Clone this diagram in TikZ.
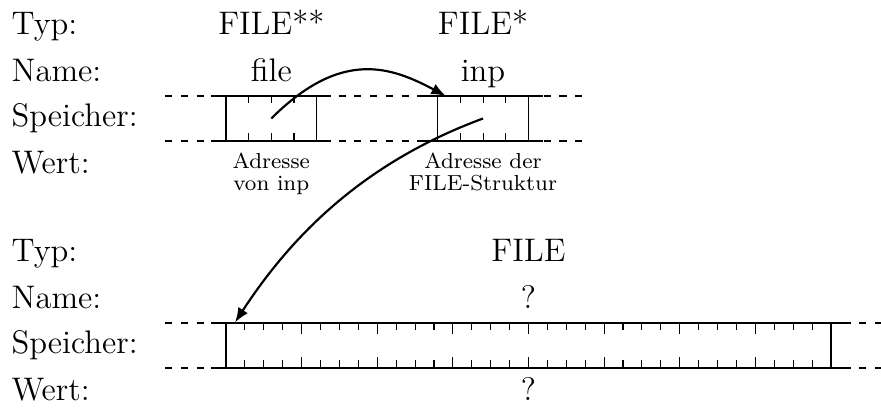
\documentclass[tikz,border=0pt]{standalone}
\usetikzlibrary{arrows.meta}
\begin{document}
\begin{tikzpicture}[x=0.3676pt,y=-0.3676pt,
  lbl/.style={anchor=base west,inner sep=0pt,font=\fontsize{12}{14.4}\selectfont},
  val/.style={anchor=base,inner sep=0pt,font=\fontsize{12}{14.4}\selectfont},
  note/.style={anchor=base,inner sep=0pt,font=\fontsize{8}{9}\selectfont},
  mem/.style={line width=0.4pt},
  memdash/.style={line width=0.4pt,dash pattern=on 2.6pt off 3.2pt},
  ptr/.style={line width=0.8pt,-{Latex[length=5.4pt,width=4.2pt]}}]
\useasboundingbox (0,0) rectangle (881,408);

% ---------- upper part ----------
\node[lbl] (typA)  at (11,35)    {Typ:};
\node[lbl] (nameA) at (11,81.7)  {Name:};
\node[lbl] (speiA) at (11,126.7) {Speicher:};
\node[lbl] (wertA) at (11,173.3) {Wert:};

\node[val] (typ1)  at (271.3,35)   {FILE**};
\node[val] (name1) at (271.3,81.7) {file};
\node[val] (typ2)  at (483,35)     {FILE*};
\node[val] (name2) at (483,81.7)   {inp};

\node[note] (w1a) at (271.3,169) {Adresse};
\node[note] (w1b) at (271.3,190) {von inp};
\node[note] (w2a) at (483,169)   {Adresse der};
\node[note] (w2b) at (483,190)   {FILE-Struktur};

\draw[memdash] (165,96) -- (590,96);
\draw[memdash] (165,141) -- (590,141);
\draw[mem] (211.5,96) -- (331,96);
\draw[mem] (211.5,141) -- (331,141);
\draw[mem] (423,96) -- (543,96);
\draw[mem] (423,141) -- (543,141);
\foreach \bx in {226,437.7}{
  \draw[mem] (\bx,96) -- (\bx,141);
  \draw[mem] ({\bx+90.7},96) -- ({\bx+90.7},141);
  \foreach \i in {1,2,3}{
    \draw[mem] ({\bx+\i*22.675},96) -- ++(0,7.5);
    \draw[mem] ({\bx+\i*22.675},141) -- ++(0,-7.5);
  }
}

% ---------- lower part ----------
\node[lbl] (typB)  at (11,262)   {Typ:};
\node[lbl] (nameB) at (11,308.7) {Name:};
\node[lbl] (speiB) at (11,353.7) {Speicher:};
\node[lbl] (wertB) at (11,400.3) {Wert:};

\node[val] (typ3)  at (528.5,262)   {FILE};
\node[val] (name3) at (528.5,308.7) {?};
\node[val] (wert3) at (528.5,400.3) {?};

\draw[memdash] (165,323) -- (881,323);
\draw[memdash] (165,368) -- (881,368);
\draw[mem] (211.5,323) -- (845,323);
\draw[mem] (211.5,368) -- (845,368);
\draw[mem] (226,323) -- (226,368);
\draw[mem] (831,323) -- (831,368);
\foreach \i in {1,...,31}{
  \pgfmathsetmacro{\tl}{ifthenelse(mod(\i,4)==0,11,7.5)}
  \draw[mem] ({226+\i*18.906},323) -- ++(0,\tl);
  \draw[mem] ({226+\i*18.906},368) -- ++(0,-\tl);
}

% ---------- pointers ----------
\coordinate (p1) at (271.3,118.5);
\coordinate (t1) at (446,96);
\coordinate (p2) at (483,118.5);
\coordinate (t2) at (235,322.5);
\draw[ptr] (p1) .. controls (342,48) and (392,67.4) .. (t1);
\draw[ptr] (p2) .. controls (370.5,160) and (296,228.7) .. (t2);
\end{tikzpicture}
\end{document}
